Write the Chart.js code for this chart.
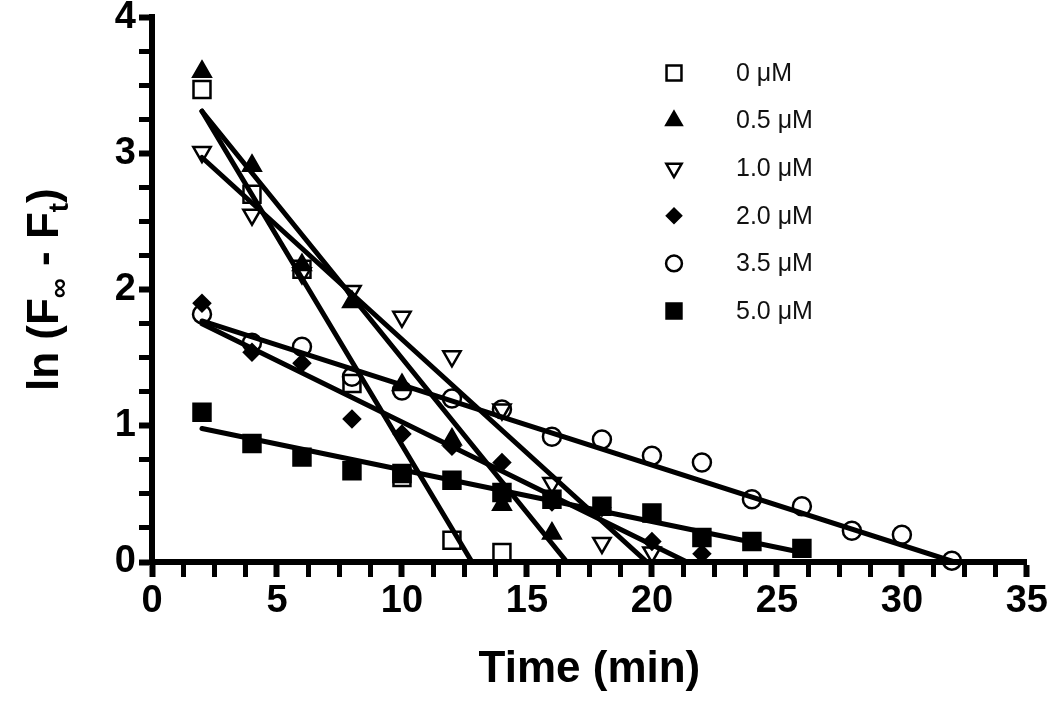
<!DOCTYPE html>
<html>
<head>
<meta charset="utf-8">
<script src="https://cdn.jsdelivr.net/npm/chart.js@4.4.1/dist/chart.umd.min.js"></script>
<style>
  body { margin: 0; background: #fff; }
  #wrap { width: 1050px; height: 702px; }
</style>
</head>
<body>
<div id="wrap"><canvas id="kineticsChart" width="1050" height="702"></canvas></div>
<script>
// sampling times (min), shared by all series; each series uses the first n of them
var times = [2, 4, 6, 8, 10, 12, 14, 16, 18, 20, 22, 24, 26, 28, 30, 32];

var seriesLabels = ['0 \u03bcM', '0.5 \u03bcM', '1.0 \u03bcM', '2.0 \u03bcM', '3.5 \u03bcM', '5.0 \u03bcM'];

// ln(Finf - Ft)
var conc0  = [3.47, 2.70, 2.15, 1.31, 0.62, 0.16, 0.07];
var conc05 = [3.60, 2.91, 2.18, 1.91, 1.30, 0.90, 0.42, 0.21];
var conc10 = [3.01, 2.55, 2.12, 1.99, 1.80, 1.51, 1.12, 0.58, 0.14, 0.07];
var conc20 = [1.90, 1.54, 1.46, 1.05, 0.94, 0.85, 0.73, 0.44, 0.40, 0.15, 0.06];
var conc35 = [1.82, 1.61, 1.58, 1.36, 1.26, 1.20, 1.12, 0.92, 0.90, 0.78, 0.73, 0.46, 0.41, 0.23, 0.20, 0.01];
var conc50 = [1.10, 0.87, 0.77, 0.67, 0.65, 0.60, 0.51, 0.46, 0.41, 0.36, 0.18, 0.15, 0.10];

// fitted lines, start and end points
var fitStartX = [2, 2, 2, 2, 2, 2];
var fitStartY = [3.31, 3.31, 2.97, 1.75, 1.77, 0.98];
var fitEndX   = [12.8, 16.6, 19.8, 21.4, 32.1, 26];
var fitEndY   = [0, 0, 0, 0, 0, 0.07];

// axis ticks
var xMin = 0, xMax = 35, xMinorStep = 1.25, xMajorStep = 5;
var yMin = 0, yMax = 4, yMinorStep = 0.25, yMajorStep = 1;

var allSeries = [conc0, conc05, conc10, conc20, conc35, conc50];
var markerStyles = [
  { pointStyle: 'rect',     radius: 12, fill: 'rgba(0,0,0,0)', rotation: 0 },
  { pointStyle: 'triangle', radius: 10, fill: '#000',          rotation: 0 },
  { pointStyle: 'triangle', radius: 10, fill: 'rgba(0,0,0,0)', rotation: 180 },
  { pointStyle: 'rectRot',  radius: 8,  fill: '#000',          rotation: 0 },
  { pointStyle: 'circle',   radius: 9,  fill: 'rgba(0,0,0,0)', rotation: 0 },
  { pointStyle: 'rect',     radius: 12, fill: '#000',          rotation: 0 }
];

var fontFamily = "'Liberation Sans', Arial, Helvetica, sans-serif";

function toPoints(values) {
    var pts = [];
    for (var i = 0; i < values.length; i++) {
        pts.push({ x: times[i], y: values[i] });
    }
    return pts;
}

var datasets = [];
for (var i = 0; i < allSeries.length; i++) {
    var m = markerStyles[i];
    datasets.push({
        label: seriesLabels[i],
        data: toPoints(allSeries[i]),
        showLine: false,
        pointStyle: m.pointStyle,
        rotation: m.rotation,
        pointRadius: m.radius,
        pointBackgroundColor: m.fill,
        pointBorderColor: '#000',
        pointBorderWidth: 2.5,
        clip: false
    });
}
for (var j = 0; j < fitStartX.length; j++) {
    datasets.push({
        label: 'fit ' + seriesLabels[j],
        data: [{ x: fitStartX[j], y: fitStartY[j] }, { x: fitEndX[j], y: fitEndY[j] }],
        showLine: true,
        borderColor: '#000',
        borderWidth: 5,
        borderCapStyle: 'round',
        pointRadius: 0,
        fill: false
    });
}

// legend drawn inside the plot, top right
var legendPlugin = {
    id: 'markerLegend',
    afterDraw: function (chart) {
        var ctx = chart.ctx;
        var x0 = 674, y0 = 73, gap = 47.6;
        ctx.save();
        for (var i = 0; i < seriesLabels.length; i++) {
            var m = markerStyles[i];
            var y = y0 + gap * i;
            ctx.fillStyle = m.fill;
            ctx.strokeStyle = '#000';
            ctx.lineWidth = 2.5;
            Chart.helpers.drawPoint(ctx, {
                pointStyle: m.pointStyle,
                rotation: m.rotation,
                radius: m.radius * 0.88,
                borderWidth: 2.5
            }, x0, y);
            ctx.fillStyle = '#111';
            ctx.font = '25px ' + fontFamily;
            ctx.textAlign = 'left';
            ctx.textBaseline = 'middle';
            ctx.fillText(seriesLabels[i], 736, y + 1);
        }
        ctx.restore();
    }
};

// y axis title with subscripts
var yTitlePlugin = {
    id: 'yTitle',
    afterDraw: function (chart) {
        var ctx = chart.ctx;
        var parts = [
            { t: 'ln (F', size: 44, dy: 0 },
            { t: '\u221e', size: 28, dy: 10 },
            { t: ' - F', size: 44, dy: 0 },
            { t: 't', size: 28, dy: 10 },
            { t: ')', size: 44, dy: 0 }
        ];
        ctx.save();
        var total = 0;
        for (var i = 0; i < parts.length; i++) {
            ctx.font = 'bold ' + parts[i].size + 'px ' + fontFamily;
            parts[i].w = ctx.measureText(parts[i].t).width;
            total += parts[i].w;
        }
        var area = chart.chartArea;
        ctx.translate(42, (area.top + area.bottom) / 2);
        ctx.rotate(-Math.PI / 2);
        ctx.fillStyle = '#000';
        ctx.textBaseline = 'alphabetic';
        ctx.textAlign = 'left';
        var x = -total / 2;
        for (var k = 0; k < parts.length; k++) {
            ctx.font = 'bold ' + parts[k].size + 'px ' + fontFamily;
            ctx.fillText(parts[k].t, x, 16 + parts[k].dy);
            x += parts[k].w;
        }
        ctx.restore();
    }
};

var ctx = document.getElementById('kineticsChart').getContext('2d');
var kineticsChart = new Chart(ctx, {
    type: 'scatter',
    data: { datasets: datasets },
    options: {
        responsive: false,
        animation: false,
        devicePixelRatio: 1,
        layout: { padding: { top: 14, right: 20, bottom: 0, left: 0 } },
        plugins: {
            legend: { display: false },
            tooltip: { enabled: false }
        },
        scales: {
            x: {
                type: 'linear',
                min: xMin,
                max: xMax,
                border: { display: true, color: '#000', width: 6 },
                grid: {
                    drawOnChartArea: false,
                    drawTicks: true,
                    tickLength: 15,
                    tickColor: '#000',
                    tickWidth: function (c) { return c.tick && c.tick.value % xMajorStep === 0 ? 6 : 5; }
                },
                ticks: {
                    stepSize: xMinorStep,
                    autoSkip: false,
                    maxRotation: 0,
                    padding: 2,
                    color: '#000',
                    font: { family: fontFamily, size: 38, weight: 'bold' },
                    callback: function (v) { return v % xMajorStep === 0 ? String(v) : ''; }
                },
                title: {
                    display: true,
                    text: 'Time (min)',
                    color: '#000',
                    font: { family: fontFamily, size: 44, weight: 'bold' },
                    padding: { top: 0, bottom: 6 }
                },
                afterFit: function (s) { s.height = 140; }
            },
            y: {
                type: 'linear',
                min: yMin,
                max: yMax,
                border: { display: true, color: '#000', width: 6 },
                grid: {
                    drawOnChartArea: false,
                    drawTicks: true,
                    tickLength: 13,
                    tickColor: '#000',
                    tickWidth: function (c) { return c.tick && c.tick.value % yMajorStep === 0 ? 6 : 5; }
                },
                ticks: {
                    stepSize: yMinorStep,
                    autoSkip: false,
                    padding: 3,
                    color: '#000',
                    font: { family: fontFamily, size: 38, weight: 'bold', lineHeight: 0.75 },
                    callback: function (v) { return v % yMajorStep === 0 ? String(v) : ''; }
                },
                afterFit: function (s) { s.width = 152; }
            }
        }
    },
    plugins: [legendPlugin, yTitlePlugin]
});
</script>
</body>
</html>
